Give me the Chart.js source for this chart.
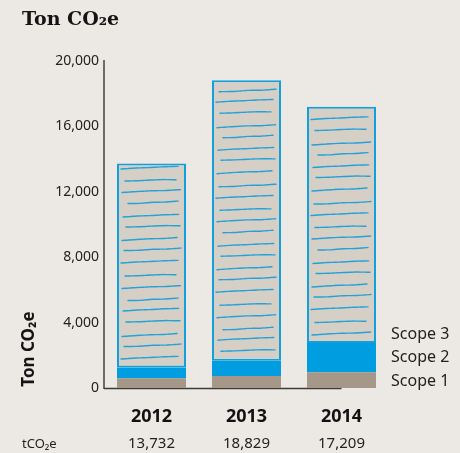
<!DOCTYPE html>
<html><head><meta charset="utf-8">
<script src="https://cdn.jsdelivr.net/npm/chart.js@4"></script>
<style>html,body{margin:0;padding:0;background:#ece8e3;} #wrap{width:460px;height:453px;position:relative}</style>
</head><body><div id="wrap"><canvas id="c" width="460" height="453"></canvas></div>
<script>
const years = ['2012', '2013', '2014'];
const scope1 = [600, 730, 960];
const scope2 = [650, 940, 1790];
const scope3 = [12482, 17159, 14459];
const totals = [13732, 18829, 17209];
const yTicks = [0, 4000, 8000, 12000, 16000, 20000];
const seriesLabels = ['Scope 1', 'Scope 2', 'Scope 3'];
const titleText = 'Ton CO₂e';
const unitText = 'tCO₂e';

const fmt = v => v.toLocaleString('en-US');

const decor = {
  id: 'decor',
  beforeDatasetsDraw(chart) {
    const ctx = chart.ctx, xs = chart.scales.x, a = chart.chartArea;
    ctx.save();
    ctx.strokeStyle = '#3e3a38';
    ctx.lineWidth = 1.5;
    ctx.beginPath();
    ctx.moveTo(a.left, a.bottom + 0.5);
    ctx.lineTo(xs.getPixelForValue(years.length - 1), a.bottom + 0.5);
    ctx.stroke();
    ctx.restore();
  },
  afterDatasetsDraw(chart) {
    const meta = chart.getDatasetMeta(2), ctx = chart.ctx;
    ctx.save();
    ctx.strokeStyle = 'rgba(16,156,218,0.9)';
    ctx.lineWidth = 1.4;
    ctx.setLineDash([4, 0.8, 2, 0.6]);
    ctx.lineCap = 'round';
    const gaps = [12, 11, 13, 12, 10, 13, 11, 14, 12, 11];
    const inset = [[4, 8], [7, 5], [5, 9], [9, 6], [6, 7], [11, 8], [5, 5], [8, 10]];
    const waves = [[1.5, 0.5, 0, -0.8, -1.2], [1, 0.8, -0.3, -0.5, -1.5], [2, 1, 0.2, 0, -1], [0.5, 0.2, -0.5, -1, -0.8]];
    meta.data.forEach((bar, bi) => {
      const p = bar.getProps(['x', 'y', 'base', 'width'], true);
      const left = p.x - p.width / 2, right = p.x + p.width / 2;
      let ly = p.base - 10, k = bi * 3;
      while (ly > p.y + 4) {
        const [l, r] = inset[k % inset.length];
        const w = waves[k % waves.length];
        const x0 = left + l, x1 = right - r;
        ctx.beginPath();
        w.forEach((dy, j) => {
          const xx = x0 + (x1 - x0) * j / (w.length - 1);
          if (j === 0) ctx.moveTo(xx, ly + dy); else ctx.lineTo(xx, ly + dy);
        });
        ctx.stroke();
        ly -= gaps[k % gaps.length];
        k++;
      }
    });
    ctx.restore();
  },
  afterDraw(chart) {
    const ctx = chart.ctx, xs = chart.scales.x;
    ctx.save();
    ctx.fillStyle = '#141414';
    ctx.textBaseline = 'middle';
    ctx.font = 'bold 19px "DejaVu Serif"';
    ctx.textAlign = 'left';
    ctx.fillText(titleText, 22, 20);

    ctx.save();
    ctx.translate(29, 349);
    ctx.rotate(-Math.PI / 2);
    ctx.textAlign = 'center';
    ctx.font = 'bold 17px "Noto Sans"';
    ctx.fillText(titleText, 0, 0);
    ctx.restore();

    ctx.fillStyle = '#222';
    ctx.font = '15px "Noto Sans"';
    ctx.textAlign = 'center';
    totals.forEach((t, i) => ctx.fillText(fmt(t), xs.getPixelForValue(i), 444));
    ctx.textAlign = 'left';
    ctx.font = '13px "Noto Sans"';
    ctx.fillText(unitText, 22, 444);

    ctx.font = '16px "Noto Sans"';
    const ly = [381, 357, 334];
    seriesLabels.forEach((s, i) => ctx.fillText(s, 391, ly[i]));
    ctx.restore();
  }
};

new Chart(document.getElementById('c'), {
  type: 'bar',
  data: {
    labels: years,
    datasets: [
      { label: seriesLabels[0], data: scope1, backgroundColor: '#a69888', borderWidth: 0 },
      { label: seriesLabels[1], data: scope2, backgroundColor: '#009ee0', borderWidth: 0 },
      { label: seriesLabels[2], data: scope3, backgroundColor: '#d6cfc6', borderColor: '#12a0dc', borderWidth: 2, borderSkipped: false }
    ]
  },
  options: {
    responsive: false,
    animation: false,
    devicePixelRatio: 1,
    layout: { padding: { top: 61, right: 71, left: 0, bottom: 0 } },
    plugins: { legend: { display: false }, tooltip: { enabled: false } },
    datasets: { bar: { categoryPercentage: 1, barPercentage: 69 / 95 } },
    scales: {
      x: {
        stacked: true,
        grid: { display: false, drawTicks: false },
        border: { display: false },
        ticks: { color: '#111', font: { family: 'Noto Sans', size: 18, weight: 'bold' }, padding: 18 },
        afterFit: s => { s.height = 65; }
      },
      y: {
        stacked: true,
        min: 0, max: 20000,
        grid: { display: false, drawTicks: false },
        border: { display: true, color: '#6e6a67', width: 2 },
        afterBuildTicks: s => { s.ticks = yTicks.map(v => ({ value: v })); },
        ticks: { color: '#222', font: { family: 'Noto Sans', size: 14 }, padding: 5, callback: v => fmt(v) },
        afterFit: s => { s.width = 104; }
      }
    }
  },
  plugins: [decor]
});
</script>
</body></html>
